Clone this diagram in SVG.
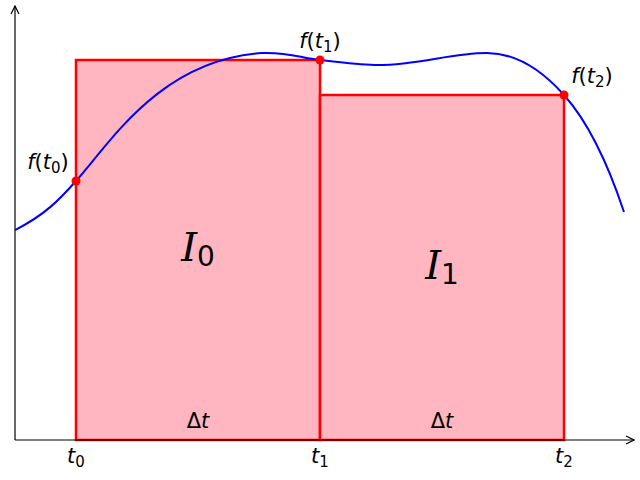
<svg xmlns="http://www.w3.org/2000/svg" width="640" height="480" viewBox="0 0 640 480">
<defs>
<style>
.rect{fill:#ffb6c1;stroke:#ff0000;stroke-width:2.5}
.axis{stroke:#000;stroke-width:1.2;fill:none}
.curve{fill:none;stroke:#0000ff;stroke-width:2}
.pt{fill:#ff0000}
text{font-family:"DejaVu Sans",sans-serif;fill:#000}
.m{font-size:21px}
.it{font-style:italic}
.big{font-size:40px}
.ser{font-family:"DejaVu Serif",serif;font-style:italic}
</style>
<marker id="arr" viewBox="0 0 10 10" refX="9" refY="5" markerWidth="10" markerHeight="10" markerUnits="userSpaceOnUse" orient="auto">
<path d="M1,1 L9,5 L1,9" fill="none" stroke="#000" stroke-width="1.2"/>
</marker>
<clipPath id="c"><rect x="15" y="0" width="610" height="440"/></clipPath>
</defs>
<rect width="640" height="480" fill="#fff"/>
<g id="rect0"><rect class="rect" x="76" y="60" width="244" height="380"/></g>
<g id="rect1"><rect class="rect" x="320" y="95" width="244" height="345"/></g>
<g id="axes">
<line class="axis" x1="15" y1="440" x2="15" y2="6" marker-end="url(#arr)"/>
<line class="axis" x1="15" y1="440" x2="634" y2="440" marker-end="url(#arr)"/>
</g>
<g id="connectors">
<path class="curve" clip-path="url(#c)" d="M15,230 C45,215 60,199 76,181 C110,143 160,60 262,53 C290,52 300,58 320,60 C340,62 360,65 378,65 C420,65 450,53 487,53 C515,53 540,68 564,95 C590,124 610,170 624,212"/>
</g>
<g id="points">
<circle class="pt" cx="76" cy="181" r="4.5"/>
<circle class="pt" cx="320" cy="60" r="4.5"/>
<circle class="pt" cx="564" cy="95" r="4.5"/>
</g>
<g id="labels">
<text class="m" x="48" y="169" text-anchor="middle"><tspan class="it">f</tspan>(<tspan class="it">t</tspan><tspan font-size="15" dy="4">0</tspan><tspan dy="-4">)</tspan></text>
<text class="m" x="320" y="48" text-anchor="middle"><tspan class="it">f</tspan>(<tspan class="it">t</tspan><tspan font-size="15" dy="4">1</tspan><tspan dy="-4">)</tspan></text>
<text class="m" x="592" y="83" text-anchor="middle"><tspan class="it">f</tspan>(<tspan class="it">t</tspan><tspan font-size="15" dy="4">2</tspan><tspan dy="-4">)</tspan></text>
<text class="big" x="198" y="261" text-anchor="middle"><tspan class="ser">I</tspan><tspan font-size="28" dy="5">0</tspan></text>
<text class="big" x="442" y="279" text-anchor="middle"><tspan class="ser">I</tspan><tspan font-size="28" dy="5">1</tspan></text>
<text class="m" x="198" y="428" text-anchor="middle">Δ<tspan class="it">t</tspan></text>
<text class="m" x="442" y="428" text-anchor="middle">Δ<tspan class="it">t</tspan></text>
<text class="m" x="76" y="463" text-anchor="middle"><tspan class="it">t</tspan><tspan font-size="15" dy="4">0</tspan></text>
<text class="m" x="320" y="463" text-anchor="middle"><tspan class="it">t</tspan><tspan font-size="15" dy="4">1</tspan></text>
<text class="m" x="564" y="463" text-anchor="middle"><tspan class="it">t</tspan><tspan font-size="15" dy="4">2</tspan></text>
</g>
</svg>
